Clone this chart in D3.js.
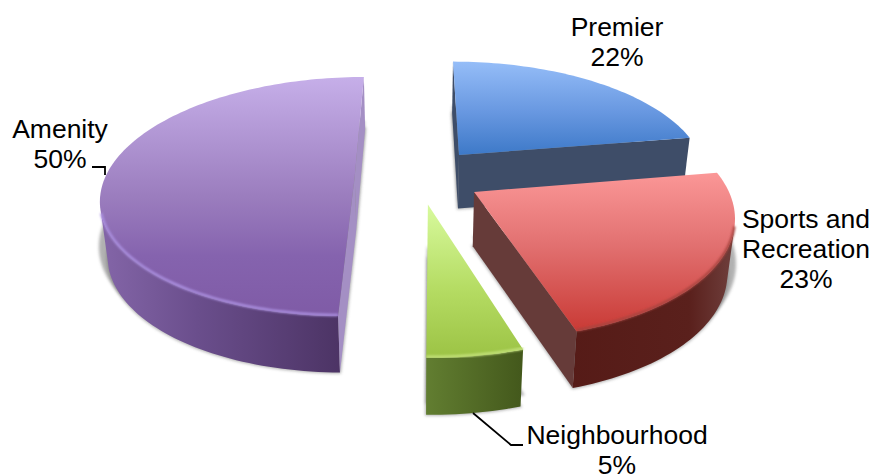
<!DOCTYPE html>
<html>
<head>
<meta charset="utf-8">
<script src="https://cdn.jsdelivr.net/npm/d3@7"></script>
<style>
  html, body { margin: 0; background: #fff; }
  text { font-family: "Liberation Sans", Arial, sans-serif; font-size: 26.5px; fill: #000; text-anchor: middle; }
</style>
</head>
<body>
<svg class="pie3d" width="874" height="475"></svg>
<script>
// Values (printed rounded on the labels)
const categories = ["Premier", "Sports and Recreation", "Neighbourhood", "Amenity"];
const shares = [22.4, 22.8, 5.0, 49.8];

const width = 874, height = 475;

// Camera: everything converges on one vanishing point, fitted from the slice edges
const vanish = {x: 417, y: -500};
const persp = 0.1716, spreadX = 249, spreadY = 676;
// how far each slice is pulled out of the pie, in pie radii
const pullX = [0.174, 0.224, 0.042, -0.25];
const pullY = [0.187, -0.134, -0.235, 0];

// Styles per slice, same order as categories
const topStops = [
  [[0, "#95bdf8"], [0.55, "#6797e0"], [1, "#3d79c8"]],
  [[0, "#fb9797"], [0.45, "#e27171"], [1, "#c93a35"]],
  [[0, "#d8fa9e"], [0.55, "#b5dc63"], [1, "#9cc345"]],
  [[0, "#c6afe9"], [0.5, "#9b7dbe"], [0.75, "#8563ae"], [1, "#7f5ba6"]]
];
const rimStops = [
  [[0, "#3e4e6a"], [1, "#3e4e6a"]],
  [[0, "#521713"], [0.85, "#5a201c"], [1, "#6c3b38"]],
  [[0, "#627e31"], [1, "#44591c"]],
  [[0, "#8264a6"], [0.35, "#6a4e8c"], [1, "#472f5e"]]
];
const wallColors = ["#3e4d68", "#663b39", "#5c7530", "#a48fc4"];
const bevelColors = ["none", "#a8443f", "#c4e27c", "#ab90e0"];

// Label layout: centre x and first baseline, with the text split into lines
const labelLines = [["Premier"], ["Sports and", "Recreation"], ["Neighbourhood"], ["Amenity"]];
const labelPos = [[617, 36], [806, 228], [617, 444], [60, 138]];
const leaders = [null, null, [[473, 413], [511, 445], [523, 445]], [[92, 167], [105, 167], [105, 175]]];

const svg = d3.select(".pie3d");
const defs = svg.append("defs");

defs.append("filter").attr("id", "shadow")
    .attr("x", "-10%").attr("y", "-10%").attr("width", "120%").attr("height", "120%")
  .append("feGaussianBlur").attr("stdDeviation", 1.4);
defs.append("filter").attr("id", "bevel")
    .attr("x", "-10%").attr("y", "-10%").attr("width", "120%").attr("height", "120%")
  .append("feGaussianBlur").attr("stdDeviation", 0.9);

// Slices start at 12 o'clock and run clockwise, in the given order
const slices = d3.pie().sort(null).value(d => d)(shares);

// plane coordinates to screen; drop = true gives the underside of the slice
function project(px, py, drop) {
  const d = 1 + persp * py;
  let sx = vanish.x + spreadX * px / d;
  let sy = vanish.y + spreadY / d;
  if (drop) {
    sx += (vanish.x - sx) * 0.024;
    sy += 54 - 2.5 * py;
  }
  return [sx, sy];
}

function addGradient(id, stops, x1, y1, x2, y2) {
  const g = defs.append("linearGradient").attr("id", id)
      .attr("gradientUnits", "userSpaceOnUse")
      .attr("x1", x1).attr("y1", y1).attr("x2", x2).attr("y2", y2);
  stops.forEach(s => g.append("stop").attr("offset", s[0]).attr("stop-color", s[1]));
}

const line = d3.line();
const closed = pts => line(pts) + "Z";

function drawSlice(slice, i, g) {
  const ox = pullX[i], oy = pullY[i];

  const steps = Math.max(8, Math.ceil((slice.endAngle - slice.startAngle) * 40));
  const angles = d3.range(steps + 1).map(k => slice.startAngle + (slice.endAngle - slice.startAngle) * k / steps);
  const rimAt = (a, drop) => project(ox + Math.sin(a), oy + Math.cos(a), drop);
  const apexTop = project(ox, oy, false), apexLow = project(ox, oy, true);

  const topPts = [apexTop].concat(angles.map(a => rimAt(a, false)));
  const lowPts = [apexLow].concat(angles.map(a => rimAt(a, true)));

  const ext = d3.extent(topPts, p => p[1]);
  const extX = d3.extent(lowPts, p => p[0]);
  addGradient("top" + i, topStops[i], 0, ext[0], 0, ext[1]);
  addGradient("rim" + i, rimStops[i], extX[0], 0, extX[1], 0);

  // soft shadow under the solid
  g.append("path").attr("d", closed(lowPts))
      .attr("fill", "#666").attr("stroke", "#666").attr("stroke-width", 2)
      .attr("opacity", 0.5).attr("filter", "url(#shadow)");
  g.append("path").attr("d", closed(topPts))
      .attr("transform", "translate(0,45)")
      .attr("fill", "#666").attr("stroke", "#666").attr("stroke-width", 2)
      .attr("opacity", 0.5).attr("filter", "url(#shadow)");

  // rim wall: only the quads that face the camera
  const frontAngles = angles.filter((a, k) => {
    const b = k < steps ? angles[k + 1] : angles[k - 1];
    const quad = [rimAt(a, false), rimAt(a, true), rimAt(b, true), rimAt(b, false)];
    return (k < steps ? 1 : -1) * d3.polygonArea(quad) < 0;
  });
  if (frontAngles.length > 1) {
    const wall = frontAngles.map(a => rimAt(a, false))
        .concat(frontAngles.slice().reverse().map(a => rimAt(a, true)));
    g.append("path").attr("d", closed(wall)).attr("fill", `url(#rim${i})`);
  }

  // the two cut faces, dropped if they look away from the camera
  [[slice.startAngle, 1], [slice.endAngle, -1]].forEach(([a, sign]) => {
    const face = [apexTop, rimAt(a, false), rimAt(a, true), apexLow];
    if (sign * d3.polygonArea(face) > 0) {
      g.append("path").attr("d", closed(face)).attr("fill", wallColors[i]);
    }
  });

  g.append("path").attr("d", closed(topPts)).attr("fill", `url(#top${i})`);

  // lit edge along the front of the top face
  if (bevelColors[i] !== "none" && frontAngles.length > 1) {
    g.append("path").attr("d", line(frontAngles.map(a => rimAt(a, false))))
        .attr("fill", "none").attr("stroke", bevelColors[i]).attr("stroke-width", 2.5)
        .attr("transform", "translate(0,-1)")
        .attr("filter", "url(#bevel)");
  }
}

// back to front
[3, 0, 1, 2].forEach(i => drawSlice(slices[i], i, svg.append("g").attr("class", "slice")));

// leader lines
svg.append("g").selectAll("path")
  .data(leaders.filter(d => d))
  .join("path")
    .attr("d", d => line(d))
    .attr("fill", "none").attr("stroke", "#000").attr("stroke-width", 1.8);

// labels
const label = svg.append("g").selectAll("text")
  .data(categories)
  .join("text")
    .attr("transform", (d, i) => `translate(${labelPos[i][0]},${labelPos[i][1]})`);
label.each(function(d, i) {
  const rows = labelLines[i].concat(Math.round(shares[i]) + "%");
  d3.select(this).selectAll("tspan")
    .data(rows)
    .join("tspan")
      .attr("x", 0)
      .attr("y", (r, k) => k * 30)
      .text(r => r);
});
</script>
</body>
</html>
